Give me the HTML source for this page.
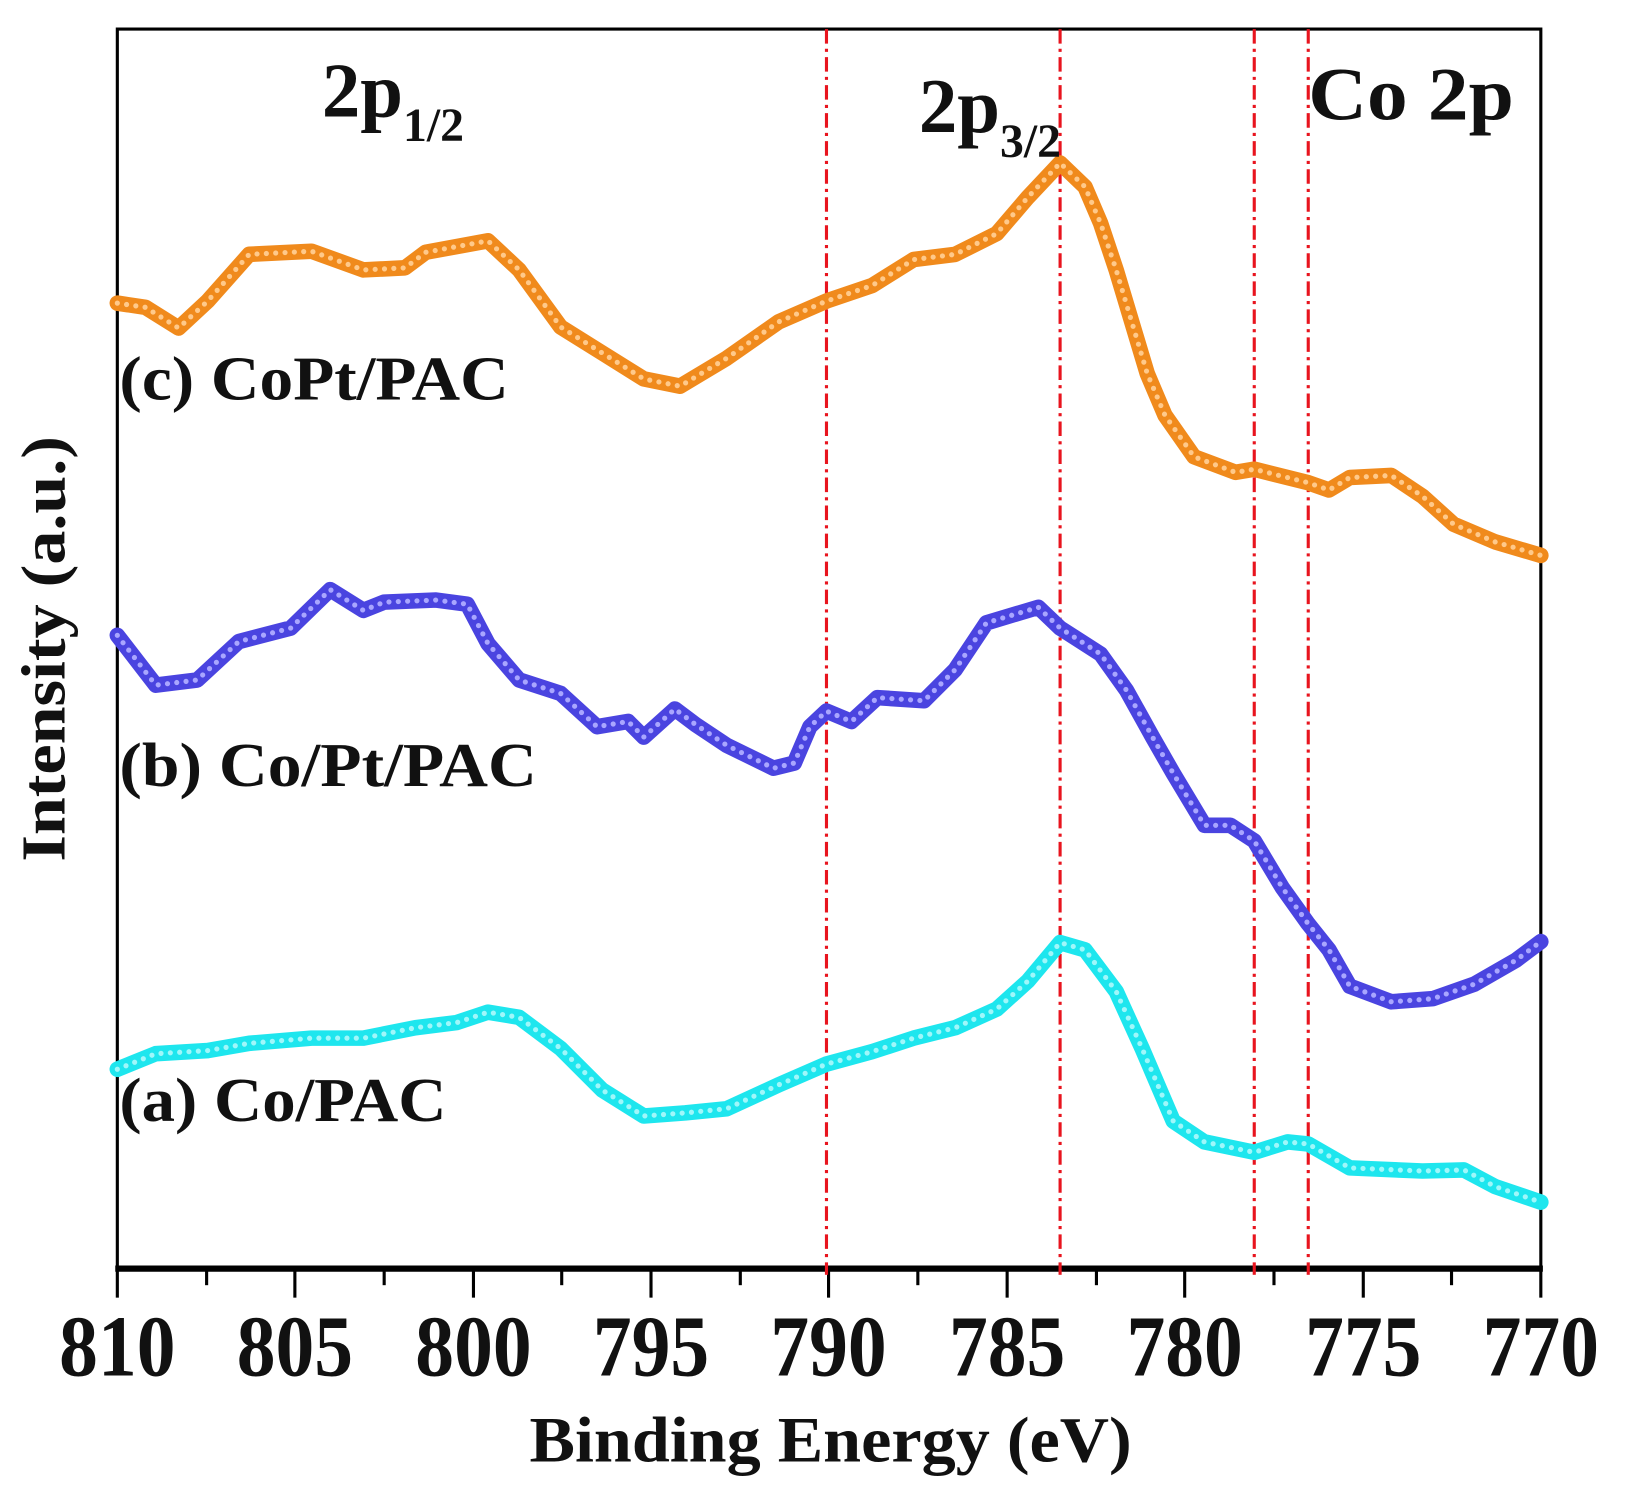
<!DOCTYPE html>
<html><head><meta charset="utf-8"><style>
html,body{margin:0;padding:0;background:#fff;}
svg{display:block;}
text{font-family:"Liberation Serif","Times New Roman",serif;font-weight:bold;fill:#111;}
</style></head><body>
<svg width="1627" height="1498" viewBox="0 0 1567 1443" preserveAspectRatio="none" xmlns="http://www.w3.org/2000/svg">
<rect x="113" y="28" width="1371" height="1194" fill="none" stroke="#000" stroke-width="3"/>
<line x1="111" y1="1222" x2="1486" y2="1222" stroke="#000" stroke-width="6"/>
<g stroke="#000" stroke-width="3">
<line x1="113" y1="1222" x2="113" y2="1250"/><line x1="284" y1="1222" x2="284" y2="1250"/><line x1="456" y1="1222" x2="456" y2="1250"/><line x1="627" y1="1222" x2="627" y2="1250"/><line x1="798" y1="1222" x2="798" y2="1250"/><line x1="970" y1="1222" x2="970" y2="1250"/><line x1="1141" y1="1222" x2="1141" y2="1250"/><line x1="1313" y1="1222" x2="1313" y2="1250"/><line x1="1484" y1="1222" x2="1484" y2="1250"/>
<line x1="199" y1="1222" x2="199" y2="1238"/><line x1="370" y1="1222" x2="370" y2="1238"/><line x1="541" y1="1222" x2="541" y2="1238"/><line x1="713" y1="1222" x2="713" y2="1238"/><line x1="884" y1="1222" x2="884" y2="1238"/><line x1="1056" y1="1222" x2="1056" y2="1238"/><line x1="1227" y1="1222" x2="1227" y2="1238"/><line x1="1398" y1="1222" x2="1398" y2="1238"/>
</g>
<g stroke="#e8141e" stroke-width="3" stroke-dasharray="14 5 3 5">
<line x1="796" y1="28" x2="796" y2="1228"/><line x1="1021" y1="28" x2="1021" y2="1228"/><line x1="1208" y1="28" x2="1208" y2="1228"/><line x1="1260" y1="28" x2="1260" y2="1228"/>
</g>
<g fill="none" stroke-linejoin="round" stroke-linecap="round">
<polyline stroke="#f08a1c" stroke-width="15" points="113,292 140,296 172,316 200,290 240,245 300,242 350,260 390,258 410,243 470,232 500,260 540,315 580,340 620,365 655,372 700,345 750,310 796,290 840,275 880,250 920,245 960,225 990,190 1021,157 1045,180 1060,215 1075,260 1090,310 1105,360 1122,400 1150,440 1190,455 1208,452 1260,465 1280,472 1300,460 1340,458 1370,478 1400,505 1440,522 1484,535"/>
<polyline stroke="#ffc98a" stroke-width="5" stroke-dasharray="0 9" points="113,292 140,296 172,316 200,290 240,245 300,242 350,260 390,258 410,243 470,232 500,260 540,315 580,340 620,365 655,372 700,345 750,310 796,290 840,275 880,250 920,245 960,225 990,190 1021,157 1045,180 1060,215 1075,260 1090,310 1105,360 1122,400 1150,440 1190,455 1208,452 1260,465 1280,472 1300,460 1340,458 1370,478 1400,505 1440,522 1484,535"/>
<polyline stroke="#4a44e0" stroke-width="15" points="113,612 150,660 190,655 230,618 280,605 318,568 350,588 370,580 420,578 450,582 470,620 500,655 540,668 575,700 605,695 620,710 650,683 670,698 700,718 745,740 765,735 780,700 796,685 820,695 845,672 890,675 920,645 950,600 1000,585 1021,605 1060,630 1085,665 1110,710 1130,745 1160,795 1185,795 1208,810 1235,855 1260,890 1280,915 1300,950 1340,965 1380,962 1420,948 1460,925 1484,907"/>
<polyline stroke="#a9a6ff" stroke-width="5" stroke-dasharray="0 9" points="113,612 150,660 190,655 230,618 280,605 318,568 350,588 370,580 420,578 450,582 470,620 500,655 540,668 575,700 605,695 620,710 650,683 670,698 700,718 745,740 765,735 780,700 796,685 820,695 845,672 890,675 920,645 950,600 1000,585 1021,605 1060,630 1085,665 1110,710 1130,745 1160,795 1185,795 1208,810 1235,855 1260,890 1280,915 1300,950 1340,965 1380,962 1420,948 1460,925 1484,907"/>
<polyline stroke="#1ee6ee" stroke-width="15" points="113,1030 150,1015 200,1012 240,1005 300,1000 350,1000 400,990 440,985 470,975 500,980 540,1010 580,1050 620,1075 660,1072 700,1068 750,1045 796,1025 840,1013 880,1000 920,990 960,972 990,945 1021,908 1045,915 1075,955 1100,1010 1130,1080 1160,1100 1208,1110 1240,1100 1260,1102 1300,1125 1370,1128 1410,1127 1440,1143 1484,1158"/>
<polyline stroke="#9ff7fa" stroke-width="5" stroke-dasharray="0 9" points="113,1030 150,1015 200,1012 240,1005 300,1000 350,1000 400,990 440,985 470,975 500,980 540,1010 580,1050 620,1075 660,1072 700,1068 750,1045 796,1025 840,1013 880,1000 920,990 960,972 990,945 1021,908 1045,915 1075,955 1100,1010 1130,1080 1160,1100 1208,1110 1240,1100 1260,1102 1300,1125 1370,1128 1410,1127 1440,1143 1484,1158"/>
</g>
<text x="310" y="112" font-size="74">2p<tspan font-size="46" dy="24">1/2</tspan></text>
<text x="885" y="127" font-size="74">2p<tspan font-size="46" dy="24">3/2</tspan></text>
<text x="1260" y="115" font-size="72" textLength="198" lengthAdjust="spacingAndGlyphs">Co 2p</text>
<text x="115" y="385" font-size="60" textLength="375" lengthAdjust="spacingAndGlyphs">(c) CoPt/PAC</text>
<text x="115" y="757" font-size="60" textLength="402" lengthAdjust="spacingAndGlyphs">(b) Co/Pt/PAC</text>
<text x="115" y="1080" font-size="60" textLength="315" lengthAdjust="spacingAndGlyphs">(a) Co/PAC</text>
<g font-size="84" text-anchor="middle">
<text x="113" y="1325" textLength="112" lengthAdjust="spacingAndGlyphs">810</text>
<text x="284" y="1325" textLength="112" lengthAdjust="spacingAndGlyphs">805</text>
<text x="456" y="1325" textLength="112" lengthAdjust="spacingAndGlyphs">800</text>
<text x="627" y="1325" textLength="112" lengthAdjust="spacingAndGlyphs">795</text>
<text x="798" y="1325" textLength="112" lengthAdjust="spacingAndGlyphs">790</text>
<text x="970" y="1325" textLength="112" lengthAdjust="spacingAndGlyphs">785</text>
<text x="1141" y="1325" textLength="112" lengthAdjust="spacingAndGlyphs">780</text>
<text x="1313" y="1325" textLength="112" lengthAdjust="spacingAndGlyphs">775</text>
<text x="1484" y="1325" textLength="112" lengthAdjust="spacingAndGlyphs">770</text>
</g>
<text x="800" y="1408" font-size="62" text-anchor="middle" textLength="580" lengthAdjust="spacingAndGlyphs">Binding Energy (eV)</text>
<text transform="translate(62,625) rotate(-90)" font-size="60" text-anchor="middle" textLength="410" lengthAdjust="spacingAndGlyphs">Intensity (a.u.)</text>
</svg>
</body></html>
